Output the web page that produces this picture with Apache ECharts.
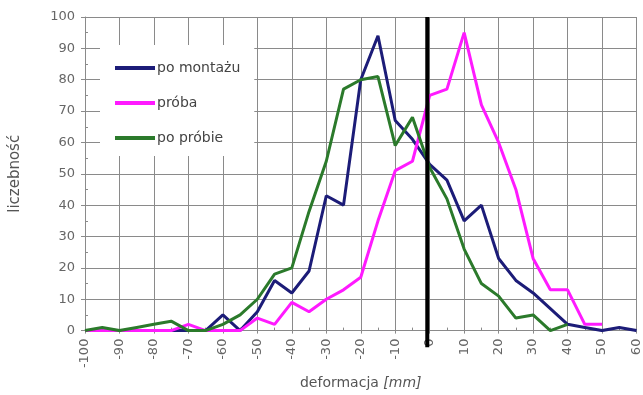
<!DOCTYPE html>
<html>
<head>
<meta charset="utf-8">
<script src="https://cdn.jsdelivr.net/npm/echarts@6/dist/echarts.min.js"></script>
<style>
html,body{margin:0;padding:0;background:#fff;}
#chart{width:643px;height:395px;}
</style>
</head>
<body>
<div id="chart"></div>
<script>
// ---- data ----
var xValues = [-100,-95,-90,-85,-80,-75,-70,-65,-60,-55,-50,-45,-40,-35,-30,-25,-20,-15,-10,-5,0,5,10,15,20,25,30,35,40,45,50,55,60];
var poMontazu = [0,0,0,0,0,0,0,0,5,0,6,16,12,19,43,40,80,94,67,61,53,48,35,40,23,16,12,7,2,1,0,1,0];
var proba = [0,0,0,0,0,0,2,0,0,0,4,2,9,6,10,13,17,35,51,54,75,77,95,72,60,45,23,13,13,2,2,null,null];
var poProbie = [0,1,0,1,2,3,0,0,2,5,10,18,20,38,54,77,80,81,59,68,52,42,26,15,11,4,5,0,2,null,null,null,null];
var seriesNames = ['po montażu','próba','po próbie'];
var referenceX = -0.7;
var referenceY = [-5.3, 100];
var xTicks = {min:-100, max:60, step:10};
var yTicks = {min:0, max:100, step:10};

function pairs(vals){
  var out = [];
  for (var i=0;i<xValues.length;i++){ out.push([xValues[i], vals[i]]); }
  return out;
}

var FONT = 'DejaVu Sans';
var chart = echarts.init(document.getElementById('chart'), null, {renderer:'canvas'});
var gridColor = '#8a8a8a';

function lineSeries(name, vals, color){
  return {
    name: name, type:'line', data: pairs(vals), showSymbol:false, symbol:'none',
    connectNulls:false, lineStyle:{color:color, width:3}, itemStyle:{color:color},
    animation:false
  };
}

chart.setOption({
  animation:false,
  backgroundColor:'#fff',
  grid:{left:81, right:4, top:17, bottom:59, containLabel:false},
  legend:{
    data: seriesNames,
    orient:'vertical', left:100, top:45,
    padding:[16,14,11,15],
    backgroundColor:'#fff',
    itemWidth:40, itemHeight:4, itemGap:21,
    icon:'rect',
    textStyle:{fontFamily:FONT, fontSize:14, color:'#444', padding:[0,0,0,-3]},
    z:10
  },
  xAxis:{
    type:'value', min:xTicks.min, max:xTicks.max, interval:xTicks.step,
    name:'{a|deformacja }{b|[mm]}',
    nameLocation:'middle', nameGap:45,
    nameTextStyle:{
      fontFamily:FONT, fontSize:14, color:'#555',
      rich:{a:{fontFamily:FONT, fontSize:14, color:'#555'}, b:{fontFamily:FONT, fontSize:14, color:'#555', fontStyle:'italic'}}
    },
    axisLine:{onZero:false, lineStyle:{color:gridColor, width:1}},
    axisTick:{show:true, length:3, lineStyle:{color:gridColor}},
    minorTick:{show:true, splitNumber:2, length:-3, lineStyle:{color:gridColor}},
    splitLine:{show:true, lineStyle:{color:gridColor, width:1}},
    axisLabel:{rotate:90, fontFamily:FONT, fontSize:13, color:'#666', margin:8}
  },
  yAxis:{
    type:'value', min:yTicks.min, max:yTicks.max, interval:yTicks.step,
    name:'liczebność', nameLocation:'middle', nameGap:62, nameRotate:90,
    nameTextStyle:{fontFamily:FONT, fontSize:15, color:'#555'},
    axisLine:{show:true, onZero:false, lineStyle:{color:gridColor, width:1}},
    axisTick:{show:true, length:4, lineStyle:{color:gridColor}},
    minorTick:{show:true, splitNumber:2, length:-3, lineStyle:{color:gridColor}},
    splitLine:{show:true, lineStyle:{color:gridColor, width:1}},
    axisLabel:{fontFamily:FONT, fontSize:13, color:'#666', margin:10}
  },
  series:[
    lineSeries(seriesNames[0], poMontazu, '#1c1c78'),
    lineSeries(seriesNames[1], proba, '#ff1aff'),
    lineSeries(seriesNames[2], poProbie, '#2b7a2b'),
    {
      name:'ref', type:'line', symbol:'none', showSymbol:false, clip:false, silent:true,
      data:[[referenceX, referenceY[0]],[referenceX, referenceY[1]]],
      lineStyle:{color:'#000', width:4}, z:5, animation:false
    }
  ]
});
</script>
</body>
</html>
